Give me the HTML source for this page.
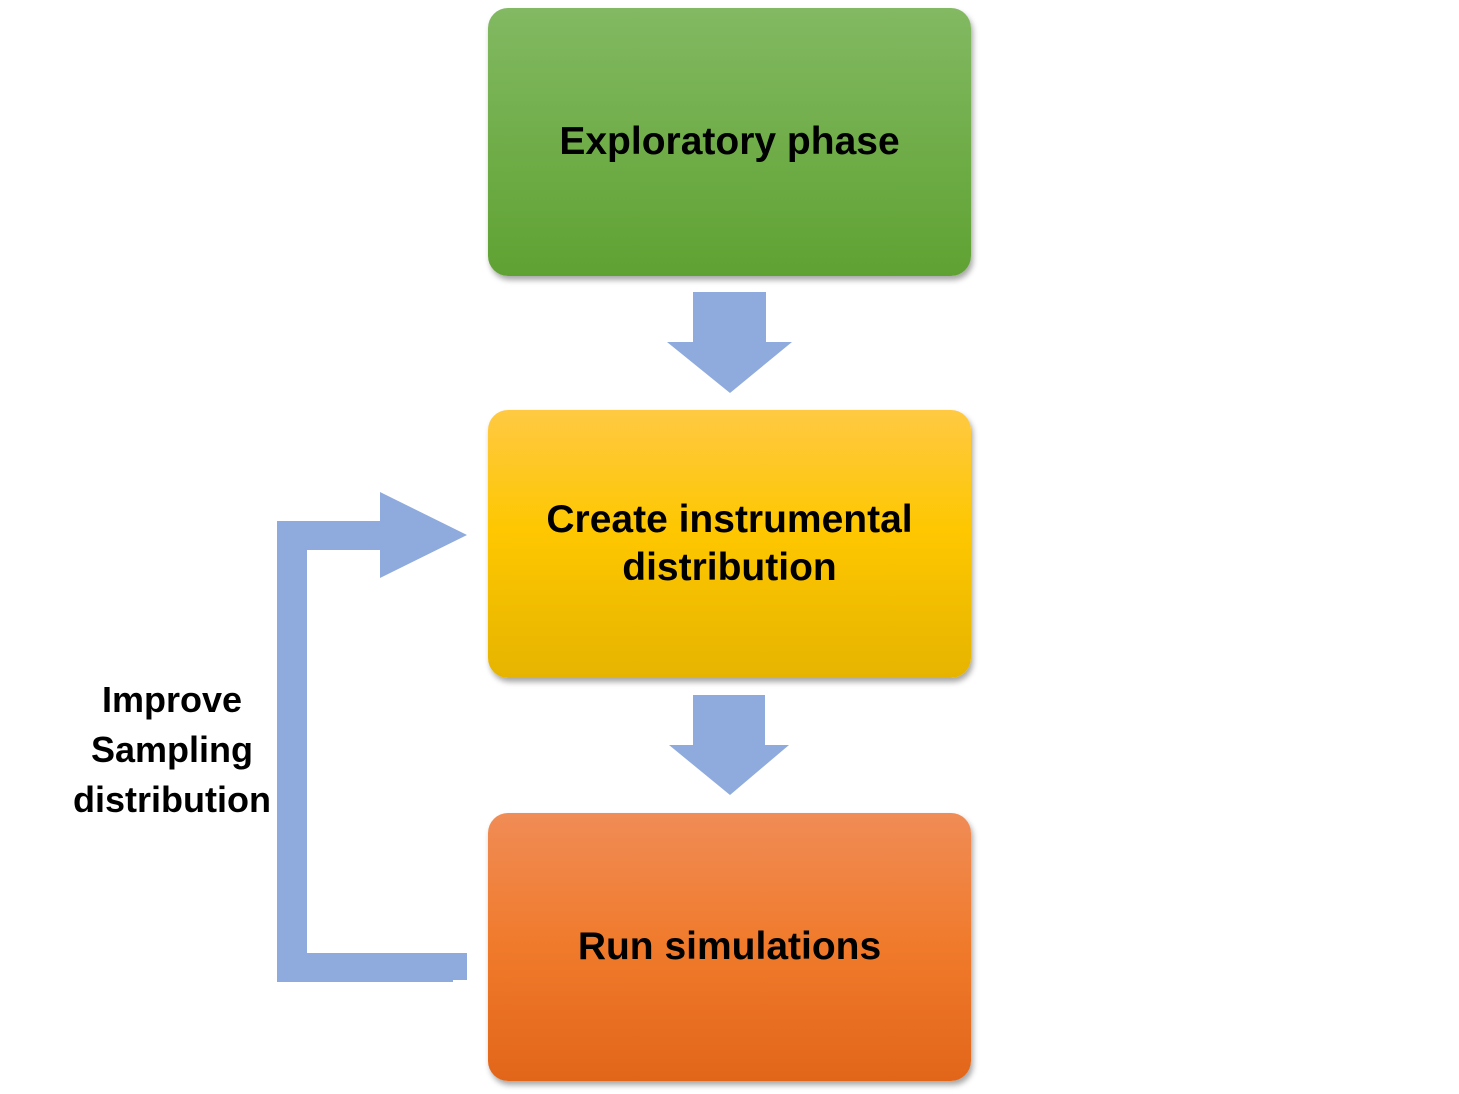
<!DOCTYPE html>
<html><head><meta charset="utf-8"><style>
body{margin:0;width:1459px;height:1094px;background:#fff;position:relative;overflow:hidden;font-family:"Liberation Sans",Arial,sans-serif;}
.box{position:absolute;left:488px;width:483px;height:268px;border-radius:20px;box-shadow:2px 4px 6px rgba(0,0,0,0.35);display:flex;align-items:center;justify-content:center;text-align:center;font-weight:bold;font-size:39px;line-height:48px;color:#000;}
.lbl{position:absolute;left:40px;width:264px;top:675px;text-align:center;font-weight:bold;font-size:36px;line-height:50px;}
</style></head><body>
<div class="box" style="top:8px;background:linear-gradient(#82b962,#5fa232);">Exploratory phase</div>
<div class="box" style="top:410px;background:linear-gradient(#ffc943,#fec700 45%,#e6b400);">Create instrumental<br>distribution</div>
<div class="box" style="top:813px;background:linear-gradient(#f08c56,#f07a2b 50%,#e2661a);">Run simulations</div>
<svg width="1459" height="1094" style="position:absolute;left:0;top:0">
<g fill="#8faadc">
<polygon points="693,292 766,292 766,342 792,342 730,393 667,342 693,342"/>
<polygon points="693,695 765,695 765,745 789,745 730,795 669,745 693,745"/>
<polygon points="277,521 380,521 380,492 467,535 380,578 380,550 307,550 307,953 467,953 467,980 453,980 453,982 277,982"/>
</g>
</svg>
<div class="lbl">Improve<br>Sampling<br>distribution</div>
</body></html>
